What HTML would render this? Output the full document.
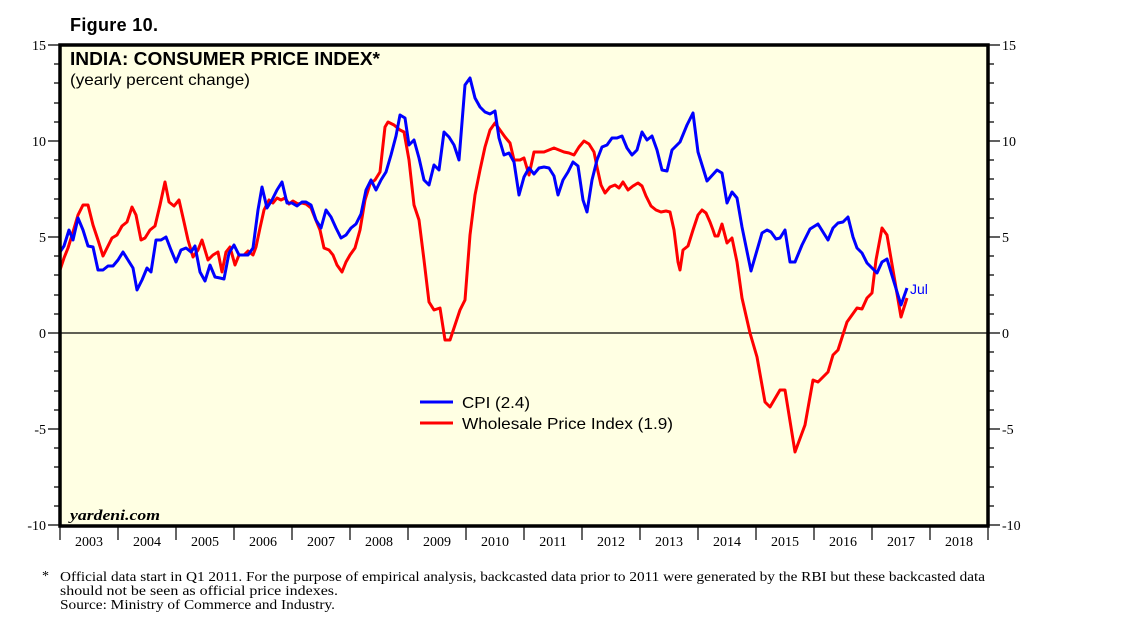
<!DOCTYPE html>
<html><head><meta charset="utf-8"><style>
body{margin:0;background:#fff;}
svg{display:block;}
.s{font-family:"Liberation Sans",sans-serif;}
.r{font-family:"Liberation Serif",serif;}
</style></head><body>
<svg width="1138" height="638" viewBox="0 0 1138 638" xmlns="http://www.w3.org/2000/svg">
<rect x="60" y="45" width="928" height="481" fill="#FFFFE3"/>
<text x="70" y="31" class="s" font-size="18" font-weight="bold" textLength="88">Figure 10.</text>
<text x="70" y="65" class="s" font-size="18" font-weight="bold" textLength="310" lengthAdjust="spacingAndGlyphs">INDIA: CONSUMER PRICE INDEX*</text>
<text x="70" y="85" class="s" font-size="16" textLength="180" lengthAdjust="spacingAndGlyphs">(yearly percent change)</text>
<line x1="60" y1="333" x2="988" y2="333" stroke="#000" stroke-width="1.2"/>
<g stroke="#000" stroke-width="1.2">
<path d="M48 45H60M48 141H60M48 237H60M48 333H60M48 429H60M48 525H60
M54 64H60M54 83H60M54 103H60M54 122H60M54 160H60M54 179H60M54 199H60M54 218H60M54 256H60M54 275H60M54 295H60M54 314H60M54 352H60M54 371H60M54 391H60M54 410H60M54 448H60M54 467H60M54 487H60M54 506H60
M988 45H1000M988 141H1000M988 237H1000M988 333H1000M988 429H1000M988 525H1000
M988 64H994M988 83H994M988 103H994M988 122H994M988 160H994M988 179H994M988 199H994M988 218H994M988 256H994M988 275H994M988 295H994M988 314H994M988 352H994M988 371H994M988 391H994M988 410H994M988 448H994M988 467H994M988 487H994M988 506H994"/>
<path d="M60 526V540M118 526V540M176 526V540M234 526V540M292 526V540M350 526V540M408 526V540M466 526V540M524 526V540M582 526V540M640 526V540M698 526V540M756 526V540M814 526V540M872 526V540M930 526V540M988 526V540"/>
</g>
<g class="r" font-size="14" text-anchor="end">
<text x="46" y="50">15</text><text x="46" y="146">10</text><text x="46" y="242">5</text><text x="46" y="338">0</text><text x="46" y="434">-5</text><text x="46" y="530">-10</text>
</g>
<g class="r" font-size="14">
<text x="1002" y="50">15</text><text x="1002" y="146">10</text><text x="1002" y="242">5</text><text x="1002" y="338">0</text><text x="1002" y="434">-5</text><text x="1002" y="530">-10</text>
</g>
<g class="r" font-size="14" text-anchor="middle">
<text x="89" y="546">2003</text><text x="147" y="546">2004</text><text x="205" y="546">2005</text><text x="263" y="546">2006</text><text x="321" y="546">2007</text><text x="379" y="546">2008</text><text x="437" y="546">2009</text><text x="495" y="546">2010</text><text x="553" y="546">2011</text><text x="611" y="546">2012</text><text x="669" y="546">2013</text><text x="727" y="546">2014</text><text x="785" y="546">2015</text><text x="843" y="546">2016</text><text x="901" y="546">2017</text><text x="959" y="546">2018</text>
</g>
<polyline fill="none" stroke="#FF0000" stroke-width="3" stroke-linejoin="round" points="60,270 64,258 68,248 73,232 78,215 83,205 88,205 93,225 98,240 103,256 107,248 112,238 117,235 122,226 127,222 132,207 136,215 141,240 145,238 150,230 155,226 160,205 165,182 169,202 174,206 179,200 184,222 188,240 193,257 198,250 202,240 208,260 213,255 218,252 222,272 226,252 230,247 235,265 239,255 244,255 248,251 253,255 256,247 260,228 264,210 269,200 273,203 277,198 281,200 285,198 289,204 293,201 298,204 302,203 306,204 311,208 315,218 320,230 324,248 329,250 333,255 337,265 342,272 346,262 350,255 355,248 360,230 365,200 370,184 375,180 380,172 385,127 388,122 394,125 400,130 404,132 409,160 414,205 419,220 424,260 429,302 434,310 440,308 445,340 450,340 455,325 460,310 465,300 470,235 475,195 480,170 485,147 490,130 495,123 500,130 505,137 510,143 514,160 520,160 524,158 529,175 534,152 539,152 544,152 549,150 554,148 559,150 564,152 569,153 574,155 579,147 584,141 589,144 594,152 597,167 601,185 605,193 610,187 615,185 619,188 623,182 628,190 633,186 638,183 642,186 646,196 651,206 656,210 661,212 666,211 670,212 674,230 678,262 680,270 683,250 688,246 693,230 698,215 702,210 706,213 710,222 713,230 715,236 718,236 722,224 727,243 732,238 737,262 742,298 750,333 757,357 765,402 770,407 780,390 785,390 795,452 805,425 813,380 818,382 828,372 833,355 838,350 847,322 857,308 862,309 867,298 872,293 876,260 882,228 887,235 901,317 907,298"/>
<polyline fill="none" stroke="#0000FF" stroke-width="3" stroke-linejoin="round" points="60,252 64,246 69,230 73,240 78,218 83,230 88,246 93,247 98,270 103,270 108,266 113,266 118,260 123,252 128,260 133,268 137,290 142,280 147,268 151,272 156,240 161,240 166,237 171,250 176,262 181,250 186,248 191,252 195,246 200,272 205,281 210,265 215,277 220,278 224,279 229,253 234,245 239,255 243,255 248,255 253,248 258,210 262,187 267,208 272,200 277,190 282,182 287,203 292,203 297,206 302,202 306,202 311,205 316,220 321,228 326,210 331,217 336,228 341,238 346,235 351,228 356,224 361,214 366,190 371,180 376,190 381,180 386,172 391,155 396,136 400,115 405,118 409,145 414,140 419,158 424,180 429,185 434,165 439,170 444,132 449,137 454,145 459,160 465,85 470,78 475,98 480,107 485,112 490,114 495,111 499,138 504,155 509,153 514,162 519,195 524,177 529,168 534,174 539,168 544,167 549,168 554,176 558,195 563,180 568,172 573,162 578,166 583,200 587,212 592,180 597,160 602,147 607,145 612,138 617,138 622,136 627,148 632,155 637,150 642,132 647,140 652,136 657,150 662,170 667,171 672,150 677,145 680,142 687,125 693,113 698,152 707,181 717,170 722,173 727,203 732,192 737,198 742,227 751,271 762,233 767,230 771,232 776,239 780,238 785,230 790,262 795,262 802,245 810,229 818,224 828,240 833,228 838,223 843,222 848,217 853,237 857,248 862,253 867,263 877,273 882,262 887,259 901,305 907,288"/>
<text x="910" y="294" class="s" font-size="14" fill="#0000FF">Jul</text>
<line x1="420" y1="402" x2="453" y2="402" stroke="#0000FF" stroke-width="3"/>
<line x1="420" y1="423" x2="453" y2="423" stroke="#FF0000" stroke-width="3"/>
<text x="462" y="408" class="s" font-size="16" textLength="68" lengthAdjust="spacingAndGlyphs">CPI (2.4)</text>
<text x="462" y="429" class="s" font-size="16" textLength="211" lengthAdjust="spacingAndGlyphs">Wholesale Price Index (1.9)</text>
<text x="70" y="520" class="r" font-size="15" font-style="italic" font-weight="bold" textLength="90" lengthAdjust="spacingAndGlyphs">yardeni.com</text>
<rect x="60" y="45" width="928" height="481" fill="none" stroke="#000" stroke-width="3.5"/>
<g class="r" font-size="14">
<text x="42" y="580">*</text>
<text x="60" y="581" textLength="925" lengthAdjust="spacingAndGlyphs">Official data start in Q1 2011. For the purpose of empirical analysis, backcasted data prior to 2011 were generated by the RBI but these backcasted data</text>
<text x="60" y="595" textLength="278" lengthAdjust="spacingAndGlyphs">should not be seen as official price indexes.</text>
<text x="60" y="609" textLength="275" lengthAdjust="spacingAndGlyphs">Source: Ministry of Commerce and Industry.</text>
</g>
</svg>
</body></html>
